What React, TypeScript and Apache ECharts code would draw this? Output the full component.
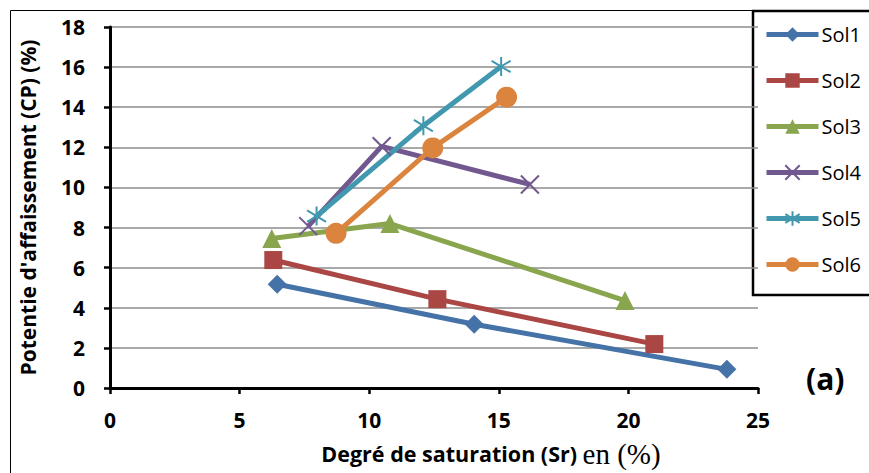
import React, { useEffect, useRef } from "react";
import * as echarts from "echarts";

const seriesNames = ["Sol1", "Sol2", "Sol3", "Sol4", "Sol5", "Sol6"];
const sol1: [number, number][] = [[6.45, 5.17], [14.05, 3.18], [23.8, 0.93]];
const sol2: [number, number][] = [[6.3, 6.38], [12.63, 4.43], [21.0, 2.19]];
const sol3: [number, number][] = [[6.24, 7.45], [10.8, 8.2], [19.87, 4.36]];
const sol4: [number, number][] = [[7.65, 8.07], [10.48, 12.05], [16.2, 10.15]];
const sol5: [number, number][] = [[7.97, 8.57], [12.09, 13.08], [15.09, 16.03]];
const sol6: [number, number][] = [[8.72, 7.71], [12.45, 11.97], [15.3, 14.5]];
const xTicks = [0, 5, 10, 15, 20, 25];
const yTicks = [0, 2, 4, 6, 8, 10, 12, 14, 16, 18];

const colors = ["#4572A7", "#AA4643", "#89A54E", "#71588F", "#4198AF", "#DB843D"];
const xPath = "path://M0,0 L10,10 M10,0 L0,10";
const starPath = "path://M5,0 L5,10 M0,2 L10,8 M10,2 L0,8";

export default function App() {
  const ref = useRef<HTMLDivElement>(null);
  useEffect(() => {
    const chart = echarts.init(ref.current!, undefined, { renderer: "svg" });
    const datas = [sol1, sol2, sol3, sol4, sol5, sol6];
    const symbols = ["diamond", "rect", "triangle", xPath, starPath, "circle"];
    const sizes = [19, 18, 19, 18, 19, 21];
    const font = "'Open Sans', 'Liberation Sans', sans-serif";
    const series = datas.map((d, i) => {
      const stroked = i === 3 || i === 4;
      return {
        name: seriesNames[i],
        type: "line",
        data: d,
        symbol: symbols[i],
        symbolSize: sizes[i],
        showAllSymbol: true,
        lineStyle: { color: colors[i], width: 5 },
        itemStyle: stroked
          ? { color: "none", borderColor: colors[i], borderWidth: 2 }
          : { color: colors[i] },
        emphasis: { disabled: true },
        z: 3,
      };
    });
    chart.setOption({
      animation: false,
      backgroundColor: "#fff",
      grid: { left: 110, top: 27, right: 111, bottom: 84, containLabel: false },
      xAxis: {
        type: "value",
        min: xTicks[0],
        max: xTicks[xTicks.length - 1],
        interval: 5,
        name: "{a|Degré de saturation (Sr) }{b|en (%)}",
        nameLocation: "middle",
        nameGap: 51,
        nameTextStyle: {
          padding: [0, 0, 0, 114],
          rich: {
            a: { fontFamily: font, fontWeight: "bold", fontSize: 21.5, color: "#000" },
            b: { fontFamily: "'Liberation Serif', serif", fontSize: 29, color: "#000" },
          },
        },
        axisLine: { lineStyle: { color: "#000", width: 3 } },
        axisTick: { show: true, inside: false, length: 6, lineStyle: { color: "#000", width: 2.5 } },
        axisLabel: { fontFamily: font, fontWeight: "bold", fontSize: 21, color: "#000", margin: 21 },
        splitLine: { show: false },
      },
      yAxis: {
        type: "value",
        min: yTicks[0],
        max: yTicks[yTicks.length - 1],
        interval: 2,
        name: "Potentie d'affaissement (CP) (%)",
        nameLocation: "middle",
        nameGap: 72,
        nameTextStyle: { fontFamily: font, fontWeight: "bold", fontSize: 21, color: "#000" },
        axisLine: { show: true, lineStyle: { color: "#000", width: 3 } },
        axisTick: { show: true, inside: false, length: 6, lineStyle: { color: "#000", width: 2.5 } },
        axisLabel: { fontFamily: font, fontWeight: "bold", fontSize: 21, color: "#000", margin: 25 },
        splitLine: { show: true, lineStyle: { color: "#8c8c8c", width: 1.5 } },
      },
      legend: {
        orient: "vertical",
        left: 764,
        top: 24,
        padding: 0,
        itemGap: 25,
        itemWidth: 52,
        itemHeight: 18,
        data: seriesNames,
        lineStyle: { width: 5 },
        textStyle: { fontFamily: font, fontSize: 20, lineHeight: 21, color: "#000", padding: [0, 0, 0, -2] },
      },
      graphic: [
        {
          type: "rect",
          shape: { x: 10.5, y: 10.5, width: 880, height: 480 },
          style: { fill: "none", stroke: "#000", lineWidth: 1 },
          z: 10,
        },
        {
          type: "rect",
          shape: { x: 753, y: 11, width: 140, height: 284 },
          style: { fill: "#fff", stroke: "#000", lineWidth: 2.5 },
          z: 0,
        },
        {
          type: "text",
          left: 806,
          top: 363,
          style: { text: "(a)", fontFamily: font, fontWeight: "bold", fontSize: 30, fill: "#000" },
        },
      ],
      series,
    });
    return () => chart.dispose();
  }, []);
  return (
    <div
      ref={ref}
      style={{ position: "fixed", left: 0, top: 0, width: 869, height: 473 }}
    />
  );
}
